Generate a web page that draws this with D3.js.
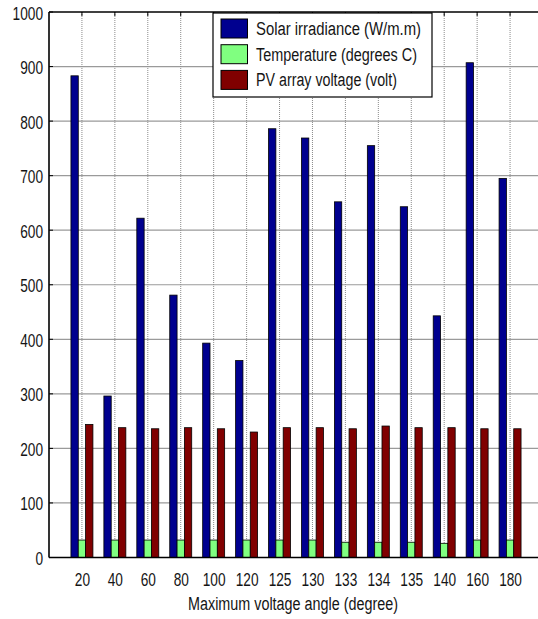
<!DOCTYPE html>
<html>
<head>
<meta charset="utf-8">
<script src="https://cdn.jsdelivr.net/npm/d3@7"></script>
<style>
  html, body { margin: 0; padding: 0; background: #fff; }
  svg { display: block; }
  text { font-family: "Liberation Sans", Arial, sans-serif; fill: #151515; }
</style>
</head>
<body>
<svg id="chart" width="538" height="619"></svg>
<script>
// Maximum voltage angle categories (degrees)
const angles = ["20", "40", "60", "80", "100", "120", "125", "130", "133", "134", "135", "140", "160", "180"];
// Series values per angle
const irradiance = [883, 296, 622, 481, 393, 361, 786, 769, 652, 755, 643, 443, 907, 695];
const temperature = [32, 32, 32, 32, 32, 32, 32, 32, 28, 28, 28, 26, 32, 32];
const voltage = [244, 238, 236, 238, 236, 230, 238, 238, 236, 241, 238, 238, 236, 236];
const seriesNames = ["Solar irradiance (W/m.m)", "Temperature (degrees C)", "PV array voltage (volt)"];
const seriesColors = ["#00008f", "#80ff80", "#800000"];
const yTicks = [0, 100, 200, 300, 400, 500, 600, 700, 800, 900, 1000];
const xLabel = "Maximum voltage angle (degree)";

const series = [irradiance, temperature, voltage];

const svg = d3.select("#chart");
const plotL = 49, plotR = 543, plotT = 12, plotB = 557.5;
const fontSize = 18, squeeze = 0.76;   // narrow sans look

// category index 1..n sits on integer positions, axis spans 0..n+1
const x = d3.scaleLinear().domain([0, angles.length + 1]).range([plotL, plotR]);
const y = d3.scaleLinear().domain([0, 1000]).range([plotB, plotT]);
const unit = x(1) - x(0);
const groupW = unit * 0.667;
const inner = d3.scaleBand().domain(d3.range(series.length)).range([-groupW / 2, groupW / 2]).paddingInner(0);

// horizontal grid
svg.append("g").selectAll("line").data(yTicks.slice(1, -1)).join("line")
  .attr("x1", plotL).attr("x2", plotR)
  .attr("y1", d => y(d)).attr("y2", d => y(d))
  .attr("stroke", "#9a9a9a").attr("stroke-width", 1.2);

// vertical dotted grid at category ticks
svg.append("g").selectAll("line").data(angles).join("line")
  .attr("x1", (d, i) => x(i + 1)).attr("x2", (d, i) => x(i + 1))
  .attr("y1", plotT).attr("y2", plotB)
  .attr("stroke", "#8a8a8a").attr("stroke-width", 1).attr("stroke-dasharray", "1,1");

// bars
const groups = svg.append("g").selectAll("g").data(angles).join("g")
  .attr("transform", (d, i) => `translate(${x(i + 1)},0)`);
groups.selectAll("rect").data((d, i) => series.map((s, k) => ({ k, v: s[i] }))).join("rect")
  .attr("x", d => inner(d.k))
  .attr("width", inner.bandwidth())
  .attr("y", d => y(d.v))
  .attr("height", d => y(0) - y(d.v))
  .attr("fill", d => seriesColors[d.k])
  .attr("stroke", "#000").attr("stroke-width", 0.8);

// y axis labels
const gy = svg.append("g").attr("transform", `translate(${plotL},0)`)
  .call(d3.axisLeft(y).tickValues(yTicks).tickFormat(d3.format("d")).tickSize(0).tickPadding(0));
gy.select(".domain").remove();
gy.attr("font-family", null).attr("font-size", null);
gy.selectAll("text")
  .attr("x", 0).attr("dy", null).attr("y", 7)
  .attr("transform", `translate(-6,0) scale(${squeeze},1)`)
  .attr("font-size", fontSize);

// x axis labels
const gx = svg.append("g").attr("transform", `translate(0,${plotB})`)
  .call(d3.axisBottom(x).tickValues(d3.range(1, angles.length + 1))
    .tickFormat(i => angles[i - 1]).tickSize(0).tickPadding(0));
gx.select(".domain").remove();
gx.attr("font-family", null).attr("font-size", null);
gx.selectAll("text")
  .attr("dy", null).attr("y", 28.5)
  .attr("transform", `scale(${squeeze},1)`)
  .attr("font-size", fontSize);

// inward tick marks on all four sides
const tk = 4;
svg.append("g").selectAll("line").data(yTicks).join("line")
  .attr("x1", plotL).attr("x2", plotL + tk).attr("y1", d => y(d)).attr("y2", d => y(d))
  .attr("stroke", "#000");
svg.append("g").selectAll("line").data(yTicks).join("line")
  .attr("x1", plotR - tk).attr("x2", plotR).attr("y1", d => y(d)).attr("y2", d => y(d))
  .attr("stroke", "#000");
svg.append("g").selectAll("line").data(angles).join("line")
  .attr("x1", (d, i) => x(i + 1)).attr("x2", (d, i) => x(i + 1))
  .attr("y1", plotT).attr("y2", plotT + tk).attr("stroke", "#000");

// axes frame
svg.append("line").attr("x1", plotL).attr("x2", plotL).attr("y1", plotT).attr("y2", plotB)
  .attr("stroke", "#000").attr("stroke-width", 1.6);
svg.append("line").attr("x1", plotL).attr("x2", plotR).attr("y1", plotB).attr("y2", plotB)
  .attr("stroke", "#000").attr("stroke-width", 1.6);
svg.append("line").attr("x1", plotL).attr("x2", plotR).attr("y1", plotT).attr("y2", plotT)
  .attr("stroke", "#000").attr("stroke-width", 1.4);
svg.append("line").attr("x1", plotR).attr("x2", plotR).attr("y1", plotT).attr("y2", plotB)
  .attr("stroke", "#000").attr("stroke-width", 1.4);

// x axis title
svg.append("text").attr("x", 188).attr("y", 610)
  .attr("font-size", fontSize)
  .attr("textLength", 210).attr("lengthAdjust", "spacingAndGlyphs")
  .text(xLabel);

// legend
const legendWidths = [165, 161, 141];
const lg = svg.append("g").attr("transform", "translate(213,13)");
lg.append("rect").attr("width", 219).attr("height", 84)
  .attr("fill", "#fff").attr("stroke", "#000").attr("stroke-width", 1.2);
const items = lg.selectAll("g").data(seriesNames).join("g")
  .attr("transform", (d, i) => `translate(0,${6 + i * 25.7})`);
items.append("rect").attr("x", 8).attr("width", 26.5).attr("height", 19)
  .attr("fill", (d, i) => seriesColors[i]).attr("stroke", "#000").attr("stroke-width", 1);
items.append("text").attr("x", 43).attr("y", 16).attr("font-size", fontSize)
  .attr("textLength", (d, i) => legendWidths[i]).attr("lengthAdjust", "spacingAndGlyphs")
  .text(d => d);
</script>
</body>
</html>
